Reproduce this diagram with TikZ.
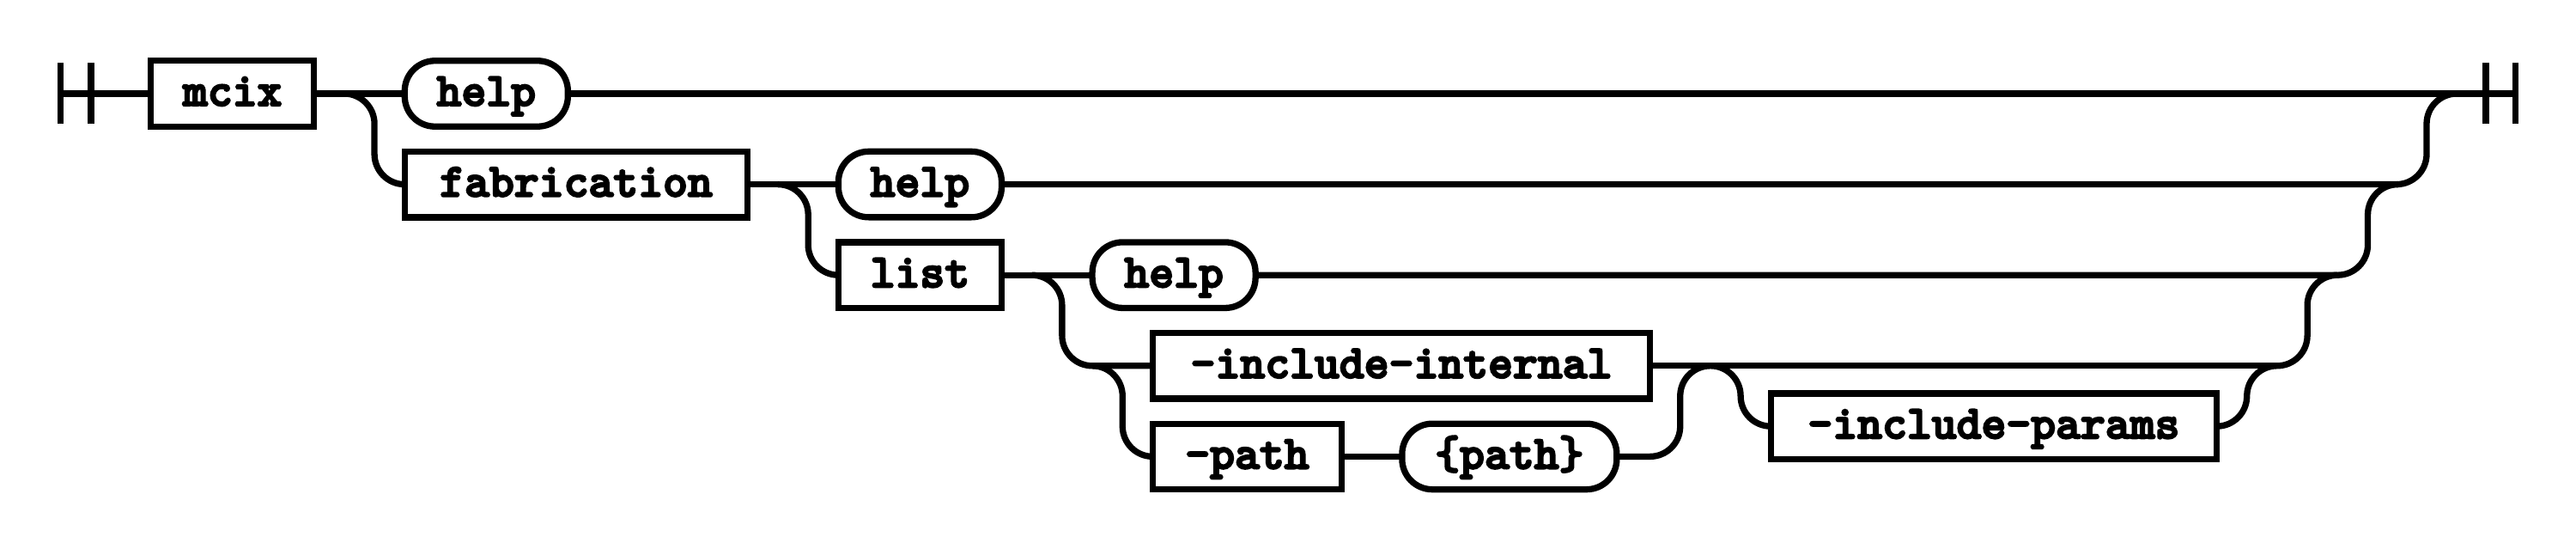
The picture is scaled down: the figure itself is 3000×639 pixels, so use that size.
\documentclass[tikz,border=0pt]{standalone}
\usepackage{fontspec}
\newfontfamily\rrfont{lmmonolt10-bold.otf}[FakeBold=4]
\usetikzlibrary{calc}
\begin{document}
\begin{tikzpicture}[x=1pt,y=-1pt,
  rr/.style={line width=7.3pt, line cap=butt, line join=miter, black},
  rc/.style={rr, rounded corners=35.2pt},
  box/.style={draw, line width=7.3pt, rectangle, inner sep=0pt, outer sep=0pt,
    minimum height=76.5pt, minimum width=#1,
    font=\fontsize{55}{60}\selectfont\rrfont,
    text height=34pt, text depth=6pt},
  term/.style={box=#1, rounded corners=35.2pt},
]
\fill[white] (0,0) rectangle (3000,639);
\useasboundingbox (0,0) rectangle (3000,639);

% start / end bars
\coordinate (b1) at (70.5,109);
\coordinate (b1t) at (70.5,73.5);
\coordinate (b1b) at (70.5,144);
\coordinate (b2t) at (106,73.5);
\coordinate (b2b) at (106,144);
\coordinate (e1t) at (2895,73.5);
\coordinate (e1b) at (2895,144);
\coordinate (e2) at (2929.5,109);
\coordinate (e2t) at (2929.5,73.5);
\coordinate (e2b) at (2929.5,144);

% nodes
\node[box=190.08pt] (mcix) at (270.64,109) {mcix};
\node[term=190.08pt] (help1) at (566.32,109) {help};
\node[box=399.52pt] (fab) at (671.04,214.6) {fabrication};
\node[term=190.08pt] (help2) at (1071.44,214.6) {help};
\node[box=190.08pt] (list) at (1071.44,320.2) {list};
\node[term=190.08pt] (help3) at (1367.12,320.2) {help};
\node[box=579.04pt] (incint) at (1632,425.8) {-include-internal};
\node[box=220pt] (path) at (1452.48,531.4) {-path};
\node[term=249.92pt] (pathv) at (1757.84,531.4) {\{path\}};
\node[box=519.2pt] (incp) at (2321.92,496.2) {-include-params};

% junctions
\coordinate (s1) at (400.88,109);
\coordinate (s2) at (906,214.6);
\coordinate (s3) at (1201.68,320.2);
\coordinate (c4) at (1272.08,425.8);
\coordinate (m4v) at (1956.72,425.8);
\coordinate (m4) at (1991.92,425.8);
\coordinate (ov) at (2616.72,425.8);
\coordinate (oout) at (2651.92,425.8);
\coordinate (c3v) at (2687.12,320.2);
\coordinate (c3out) at (2722.32,320.2);
\coordinate (c2v) at (2757.52,214.6);
\coordinate (c2out) at (2792.72,214.6);
\coordinate (c1v) at (2826,109);
\coordinate (c1out) at (2861.2,109);

% connectors
\draw[rr] (b1t) -- (b1b);
\draw[rr] (b2t) -- (b2b);
\draw[rr] (b1) -- (mcix.west);
\draw[rr] (mcix.east) -- (help1.west);
\draw[rr] (help1.east) -- (e2);
\draw[rr] (e1t) -- (e1b);
\draw[rr] (e2t) -- (e2b);

\draw[rc] (s1) -- ++(35.2,0) |- (fab.west);
\draw[rr] (fab.east) -- (help2.west);
\draw[rc] (s2) -- ++(35.2,0) |- (list.west);
\draw[rr] (list.east) -- (help3.west);
\draw[rc] (s3) -- ++(35.2,0) |- (incint.west);
\draw[rc] (c4) -- ++(35.2,0) |- (path.west);
\draw[rr] (path.east) -- (pathv.west);
\draw[rc] (pathv.east) -| (m4v) -- (m4);
\draw[rr] (incint.east) -- (oout);
\draw[rc] (m4) -- ++(35.2,0) |- (incp.west);
\draw[rc] (incp.east) -| (ov) -- (oout);
\draw[rc] (oout) -| (c3v) -- (c3out);
\draw[rc] (help3.east) -| (c2v) -- (c2out);
\draw[rc] (help2.east) -| (c1v) -- (c1out);
\end{tikzpicture}
\end{document}
